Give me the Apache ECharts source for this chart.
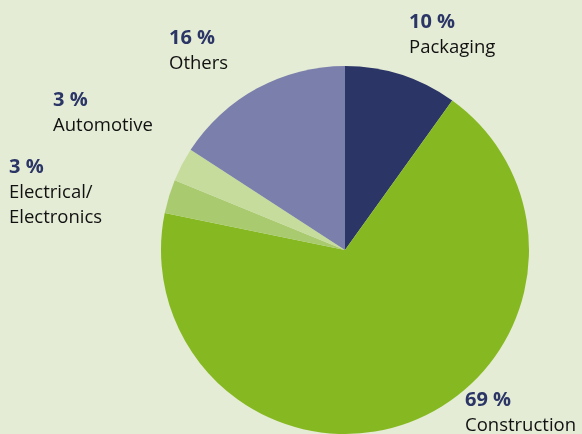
<!DOCTYPE html>
<html>
<head>
  <meta charset="UTF-8">
  <title></title>
  <script src="https://cdn.jsdelivr.net/npm/echarts@6/dist/echarts.min.js"></script>
  <style>
    html, body {
      margin: 0;
      padding: 0;
      background-color: #e4ecd5;
    }

    #main {
      width: 582px;
      height: 434px;
    }
  </style>
</head>
<body>
  <div id="main"></div>
  <script>
    const names = ['Packaging', 'Construction', 'Electrical/\nElectronics', 'Automotive', 'Others']
    const values = [10, 69, 3, 3, 16]
    const colors = ['#2b3566', '#86b921', '#a9ca6e', '#c6dc9d', '#7b7fab']
    // top-left corner of each label block
    const labelPos = [[409, 9], [465, 387], [9, 154], [53, 87], [169, 25]]

    const myChart = echarts.init(document.querySelector('#main'))
    const option = {
      backgroundColor: '#e4ecd5',
      series: [
        {
          type: 'pie',
          center: [345, 250],
          radius: [0, 184],
          startAngle: 90,
          clockwise: true,
          silent: true,
          data: names.map((n, i) => ({
            name: n,
            value: values[i],
            itemStyle: { color: colors[i] }
          })),
          label: {
            show: true,
            position: 'outside',
            fontFamily: 'Open Sans',
            formatter: p => '{pct|' + p.value + ' %}\n{name|' + p.name.split('\n').join('}\n{name|') + '}',
            rich: {
              pct: {
                fontFamily: 'Open Sans',
                fontSize: 20,
                fontWeight: 'bold',
                color: '#2b3566',
                lineHeight: 26
              },
              name: {
                fontFamily: 'Open Sans',
                fontSize: 18.5,
                color: '#111111',
                lineHeight: 25
              }
            }
          },
          labelLine: { show: false },
          labelLayout: p => ({
            x: labelPos[p.dataIndex][0],
            y: labelPos[p.dataIndex][1],
            align: 'left',
            verticalAlign: 'top'
          })
        }
      ]
    }
    myChart.setOption(option)
  </script>
</body>
</html>
